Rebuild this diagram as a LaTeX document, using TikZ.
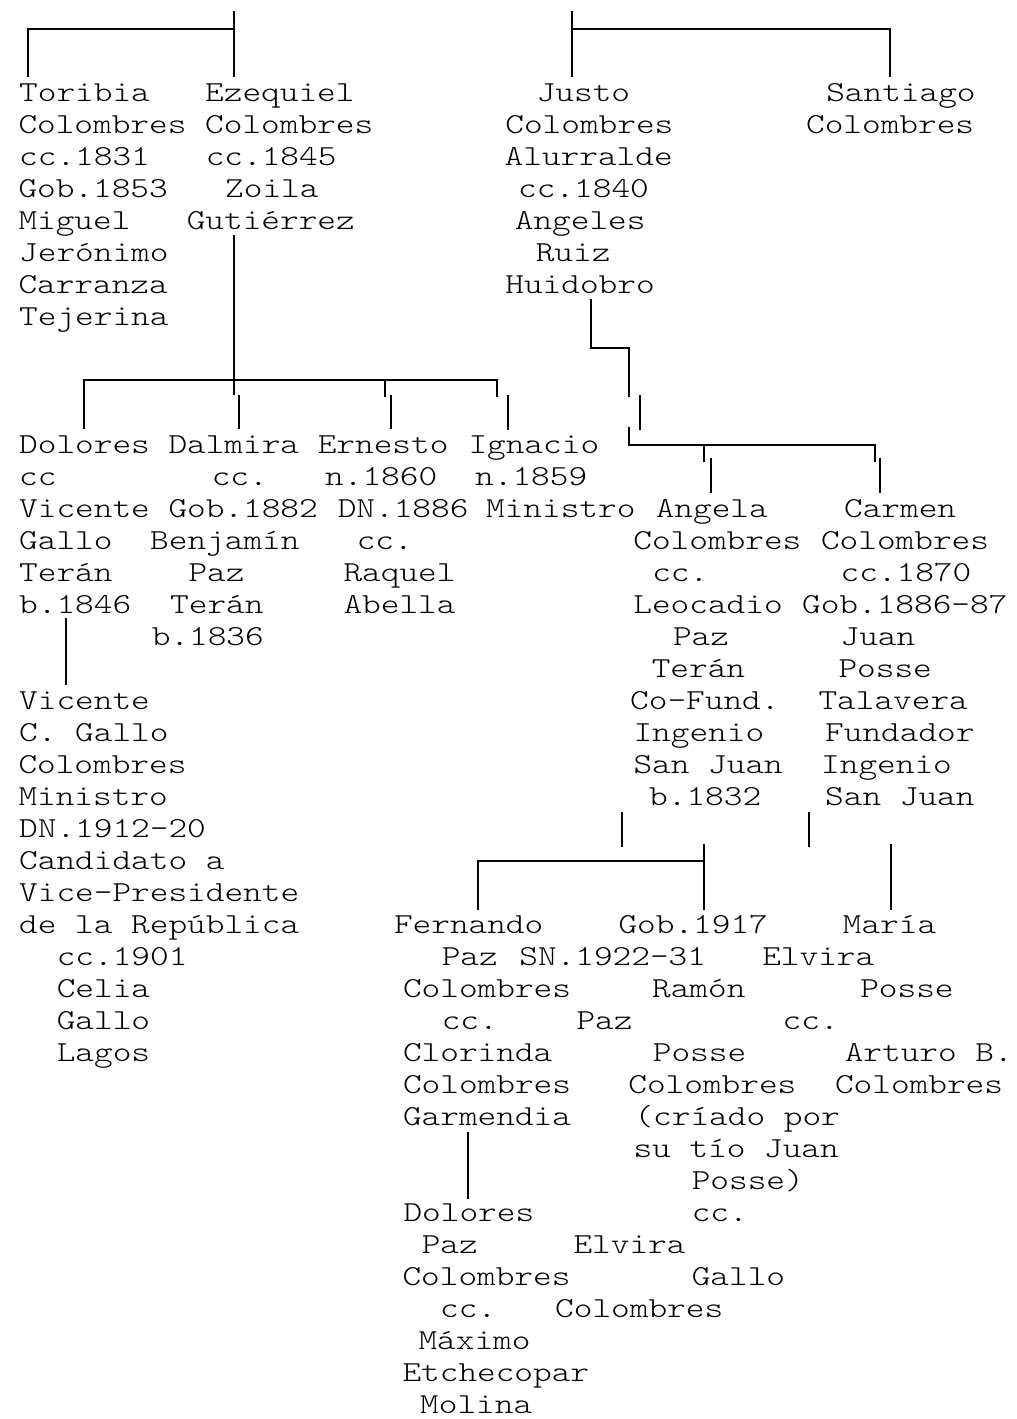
\documentclass[tikz,border=0pt]{standalone}
\usepackage{fontspec}
\usepackage{graphicx}
\newfontfamily\cour{lmmonolt10-regular.otf}
\newcommand{\myct}[1]{\scalebox{1.226}[1]{#1}}
\tikzset{
  t/.style={anchor=base west, inner sep=0pt, outer sep=0pt, xshift=-1.5pt, font=\cour\fontsize{29}{32}\selectfont},
  ln/.style={line width=2pt, black}
}
\newcommand{\mytx}[4]{\node[t] (#1) at ({#2},{101+32*#3}) {\myct{#4}};}
\begin{document}
\begin{tikzpicture}[x=1pt,y=-1pt]
\fill[white] (0,0) rectangle (1017,1419);
\useasboundingbox (0,0) rectangle (1017,1419);
% row 0-7
\mytx{a1}{20.7}{0}{Toribia}
\mytx{a2}{206.7}{0}{Ezequiel}
\mytx{a3}{538.3}{0}{Justo}
\mytx{a4}{827.8}{0}{Santiago}
\mytx{b1}{20}{1}{Colombres}
\mytx{b2}{206.7}{1}{Colombres}
\mytx{b3}{506.9}{1}{Colombres}
\mytx{b4}{807.6}{1}{Colombres}
\mytx{c1}{20.7}{2}{cc.1831}
\mytx{c2}{207.3}{2}{cc.1845}
\mytx{c3}{506.2}{2}{Alurralde}
\mytx{d1}{20}{3}{Gob.1853}
\mytx{d2}{226.7}{3}{Zoila}
\mytx{d3}{519.7}{3}{cc.1840}
\mytx{e1}{20}{4}{Miguel}
\mytx{e2}{188.3}{4}{Gutiérrez}
\mytx{e3}{516.4}{4}{Angeles}
\mytx{f1}{20.7}{5}{Jerónimo}
\mytx{f3}{537.3}{5}{Ruiz}
\mytx{g1}{20}{6}{Carranza}
\mytx{g3}{506.9}{6}{Huidobro}
\mytx{h1}{20.7}{7}{Tejerina}
% row 11-22
\mytx{k1}{20.7}{11}{Dolores}
\mytx{k2}{170}{11}{Dalmira}
\mytx{k3}{319.3}{11}{Ernesto}
\mytx{k4}{470}{11}{Ignacio}
\mytx{l1}{20.7}{12}{cc}
\mytx{l2}{213.3}{12}{cc.}
\mytx{l3}{326.7}{12}{n.1860}
\mytx{l4}{476.7}{12}{n.1859}
\mytx{m1}{20.7}{13}{Vicente}
\mytx{m2}{170}{13}{Gob.1882}
\mytx{m3}{339.3}{13}{DN.1886}
\mytx{m4}{487.6}{13}{Ministro}
\mytx{m5}{657.3}{13}{Angela}
\mytx{m6}{845.6}{13}{Carmen}
\mytx{n1}{20.7}{14}{Gallo}
\mytx{n2}{151.7}{14}{Benjamín}
\mytx{n3}{358.3}{14}{cc.}
\mytx{n5}{634.9}{14}{Colombres}
\mytx{n6}{822.5}{14}{Colombres}
\mytx{o1}{20.7}{15}{Terán}
\mytx{o2}{190}{15}{Paz}
\mytx{o3}{345}{15}{Raquel}
\mytx{o5}{653.8}{15}{cc.}
\mytx{o6}{842.1}{15}{cc.1870}
\mytx{p1}{20.7}{16}{b.1846}
\mytx{p2}{171.7}{16}{Terán}
\mytx{p3}{345}{16}{Abella}
\mytx{p5}{634.9}{16}{Leocadio}
\mytx{p6}{803.6}{16}{Gob.1886-87}
\mytx{q2}{153.3}{17}{b.1836}
\mytx{q5}{674.5}{17}{Paz}
\mytx{q6}{842.1}{17}{Juan}
\mytx{r5}{653.3}{18}{Terán}
\mytx{r6}{840}{18}{Posse}
\mytx{s1}{20.7}{19}{Vicente}
\mytx{s5}{631.7}{19}{Co-Fund.}
\mytx{s6}{820}{19}{Talavera}
\mytx{u1}{20.7}{20}{C. Gallo}
\mytx{u5}{635}{20}{Ingenio}
\mytx{u6}{826.7}{20}{Fundador}
\mytx{v1}{20}{21}{Colombres}
\mytx{v5}{635}{21}{San Juan}
\mytx{v6}{822.7}{21}{Ingenio}
\mytx{w1}{20}{22}{Ministro}
\mytx{w5}{650.7}{22}{b.1832}
\mytx{w6}{826.7}{22}{San Juan}
\mytx{x1}{20.7}{23}{DN.1912-20}
\mytx{x2}{20.7}{24}{Candidato a}
\mytx{x3}{20.7}{25}{Vice-Presidente}
% row 26-41
\mytx{y1}{20.7}{26}{de la República}
\mytx{y2}{395.5}{26}{Fernando}
\mytx{y3}{620}{26}{Gob.1917}
\mytx{y4}{844.4}{26}{María}
\mytx{z1}{58.3}{27}{cc.1901}
\mytx{z2}{443.3}{27}{Paz}
\mytx{z3}{520.9}{27}{SN.1922-31}
\mytx{z4}{763.8}{27}{Elvira}
\mytx{aa1}{58.3}{28}{Celia}
\mytx{aa2}{404.5}{28}{Colombres}
\mytx{aa3}{653.6}{28}{Ramón}
\mytx{aa4}{861.8}{28}{Posse}
\mytx{ab1}{58.3}{29}{Gallo}
\mytx{ab2}{443.3}{29}{cc.}
\mytx{ab3}{578}{29}{Paz}
\mytx{ab4}{784.2}{29}{cc.}
\mytx{ac1}{58.3}{30}{Lagos}
\mytx{ac2}{404.5}{30}{Clorinda}
\mytx{ac3}{654.4}{30}{Posse}
\mytx{ac4}{846.3}{30}{Arturo B.}
\mytx{ad2}{404.5}{31}{Colombres}
\mytx{ad3}{629.9}{31}{Colombres}
\mytx{ad4}{836.5}{31}{Colombres}
\mytx{ae2}{404.5}{32}{Garmendia}
\mytx{ae3}{636}{32}{(críado por}
\mytx{af3}{635}{33}{su tío Juan}
\mytx{ag3}{693.3}{34}{Posse)}
\mytx{ah2}{405}{35}{Dolores}
\mytx{ah3}{693.3}{35}{cc.}
\mytx{ai2}{423.3}{36}{Paz}
\mytx{ai3}{575}{36}{Elvira}
\mytx{aj2}{404}{37}{Colombres}
\mytx{aj3}{693.3}{37}{Gallo}
\mytx{ak2}{441.7}{38}{cc.}
\mytx{ak3}{556.7}{38}{Colombres}
\mytx{al2}{420}{39}{Máximo}
\mytx{am2}{404}{40}{Etchecopar}
\mytx{an2}{421.7}{41}{Molina}
% ---- lines, left family
\draw[ln] (234.3,11) -- (234.3,77);
\draw[ln] (28.3,77) -- (28.3,29) -- (234.3,29);
\draw[ln] (234.3,235) -- (234.3,395);
\draw[ln] (84,429.3) -- (84,380) -- (496.5,380) -- (496.5,397);
\draw[ln] (239,395) -- (239,429.3);
\draw[ln] (385,380) -- (385,396.7);
\draw[ln] (391,395) -- (391,429.3);
\draw[ln] (508.3,395) -- (508.3,430);
\draw[ln] (65.7,618.3) -- (65.7,685);
% ---- lines, right family
\draw[ln] (571.5,11) -- (571.5,77);
\draw[ln] (571.5,29) -- (890,29) -- (890,77);
\draw[ln] (590.5,299) -- (590.5,348.3) -- (628.7,348.3) -- (628.7,397.3);
\draw[ln] (640,395) -- (640,430);
\draw[ln] (628.7,426.7) -- (628.7,445) -- (875,445) -- (875,461.7);
\draw[ln] (703.8,445) -- (703.8,461.7);
\draw[ln] (710.6,458.3) -- (710.6,493.3);
\draw[ln] (880,458) -- (880,493.3);
% ---- lines, bottom
\draw[ln] (621.5,811.7) -- (621.5,846.7);
\draw[ln] (809,811.7) -- (809,846.7);
\draw[ln] (478,910) -- (478,861) -- (703.5,861);
\draw[ln] (703.5,843.5) -- (703.5,910);
\draw[ln] (891,843.5) -- (891,910);
\draw[ln] (468.3,1131.7) -- (468.3,1199);
\end{tikzpicture}
\end{document}
